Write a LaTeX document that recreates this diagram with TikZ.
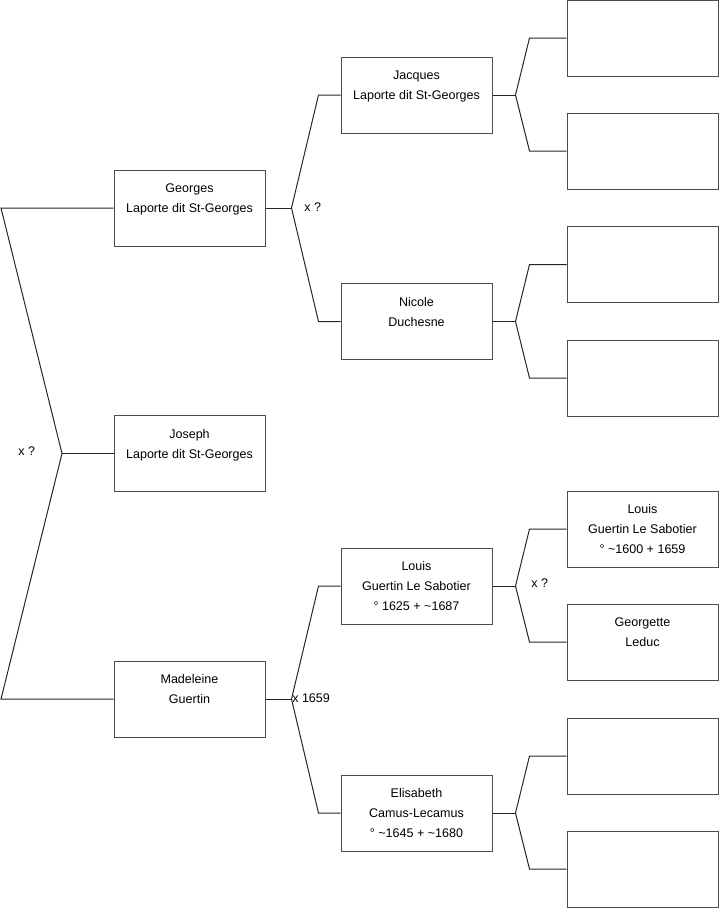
\documentclass[tikz,border=0pt]{standalone}
\usepackage{fontspec}
\setmainfont{Liberation Sans}
\usetikzlibrary{calc}
\begin{document}
\begin{tikzpicture}[x=0.75pt,y=-0.75pt,
  person/.style={draw=black!70, line width=0.75pt, minimum width=113.25pt, minimum height=57pt,
    align=center, font=\fontsize{9.4}{15}\selectfont, inner sep=0pt},
  link/.style={draw=black!85, line width=0.75pt},
  lbl/.style={font=\fontsize{9.4}{11}\selectfont, inner sep=0pt, anchor=west}]
\useasboundingbox (0,0) rectangle (719,908);
% column 1
\node[person] (geo) at (189.5,208) {Georges\\Laporte dit St-Georges\\\mbox{}};
\node[person] (jos) at (189.5,453.5) {Joseph\\Laporte dit St-Georges\\\mbox{}};
\node[person] (mad) at (189.5,699) {Madeleine\\Guertin\\\mbox{}};
% column 2
\node[person] (jac) at (416.5,95) {Jacques\\Laporte dit St-Georges\\\mbox{}};
\node[person] (nic) at (416.5,321.5) {Nicole\\Duchesne\\\mbox{}};
\node[person] (lou) at (416.5,586) {Louis\\Guertin Le Sabotier\\° 1625 + \textasciitilde1687};
\node[person] (eli) at (416.5,813) {Elisabeth\\Camus-Lecamus\\° \textasciitilde1645 + \textasciitilde1680};
% column 3
\node[person] (p1) at (642.5,38) {};
\node[person] (p2) at (642.5,151) {};
\node[person] (p3) at (642.5,264.5) {};
\node[person] (p4) at (642.5,378) {};
\node[person] (p5) at (642.5,529) {Louis\\Guertin Le Sabotier\\° \textasciitilde1600 + 1659};
\node[person] (p6) at (642.5,642) {Georgette\\Leduc\\\mbox{}};
\node[person] (p7) at (642.5,756) {};
\node[person] (p8) at (642.5,869) {};
% left fork
\coordinate (lt) at (1,208);
\coordinate (lm) at (62,453.5);
\coordinate (lb) at (1,699);
\draw[link] (geo.west) -- (lt) -- (lm) -- (lb) -- (mad.west);
\draw[link] (lm) -- (jos.west);
\node[lbl] (xl) at (18,451) {x ?};
% second-level forks
\coordinate (fg) at ($(geo.east)+(26,0)$);
\draw[link] (geo.east) -- (fg);
\draw[link] (jac.west) -- ++(-22,0) -- (fg) -- ($(nic.west)+(-22,0)$) -- (nic.west);
\node[lbl] (xg) at (304,207) {x ?};
\coordinate (fm) at ($(mad.east)+(26,0)$);
\draw[link] (mad.east) -- (fm);
\draw[link] (lou.west) -- ++(-22,0) -- (fm) -- ($(eli.west)+(-22,0)$) -- (eli.west);
\node[lbl] (xm) at (292,698) {x 1659};
% third-level forks
\foreach \c/\a/\b in {jac/p1/p2, nic/p3/p4, lou/p5/p6, eli/p7/p8}{
  \coordinate (f\c) at ($(\c.east)+(23,0)$);
  \draw[link] (\c.east) -- (f\c);
  \draw[link] (\a.west) -- ++(-37,0) -- (f\c) -- ($(\b.west)+(-37,0)$) -- (\b.west);
}
\node[lbl] (xlou) at (531,583) {x ?};
\end{tikzpicture}
\end{document}
